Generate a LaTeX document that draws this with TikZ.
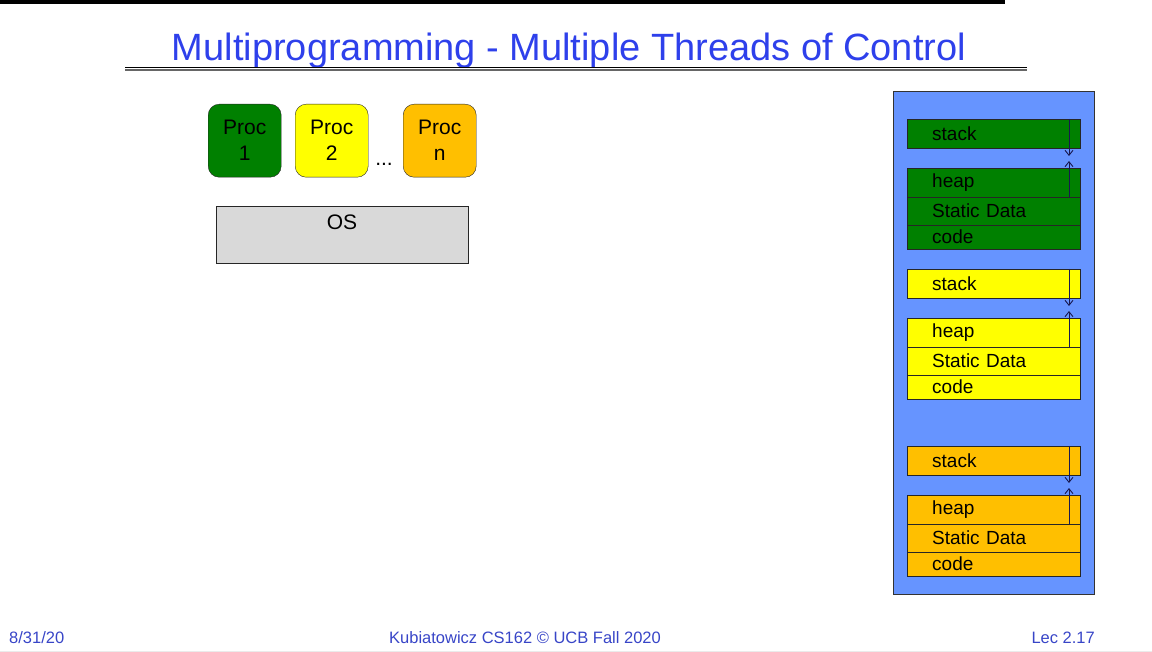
\documentclass[tikz,border=0pt]{standalone}
\usepackage{fontspec}
\setmainfont{Liberation Sans}
\usepackage{tikz}
\usetikzlibrary{positioning, calc, arrows.meta}
\definecolor{procgreen}{rgb}{0, 0.5, 0}
\definecolor{procyellow}{rgb}{1, 1, 0}
\definecolor{procorange}{rgb}{1, 0.75, 0}
\definecolor{osgray}{rgb}{0.85, 0.85, 0.85}
\definecolor{memblue}{rgb}{0.4, 0.58, 1}
\definecolor{titleblue}{rgb}{0.18, 0.25, 0.92}
\definecolor{footblue}{rgb}{0.22, 0.27, 0.78}

\begin{document}
\begin{tikzpicture}[x=1pt, y=-1pt]
		\tikzstyle{proc}=[draw=black!85, rounded corners=11pt, minimum width=73pt, minimum height=73pt, anchor=north west, align=center, inner sep=0pt, font=\fontsize{21}{26}\selectfont]
		\tikzstyle{seg}=[draw=black!85, minimum width=173pt, text width=123pt, inner xsep=25pt, inner ysep=0pt, anchor=north west, font=\fontsize{19}{22}\selectfont]
		\tikzstyle{growarrow}=[draw={rgb,255:red,25;green,25;blue,80}, line width=0.9pt, -{Straight Barb[length=5pt, width=8pt]}]
		\tikzstyle{foot}=[text=footblue, inner sep=0pt, anchor=base, font=\fontsize{16.5}{18}\selectfont]
		%%
		\useasboundingbox (0,0) rectangle (1152,652);
		\fill[black] (0,0) rectangle (1005,4);
		
		\node (title) at (569,61) [anchor=base, inner sep=0pt, text=titleblue, font=\fontsize{38}{40}\selectfont] {Multiprogramming - Multiple Threads of Control};
		\draw[line width=1.2pt, black] (125,67.5) -- (1027,67.5);
		\draw[line width=1.6pt, black!60] (125,70) -- (1027,70);
		
		\node (p1) at (208,104) [proc, fill=procgreen] {Proc\\1};
		\node (p2) at (295,104) [proc, fill=procyellow] {Proc\\2};
		\node (pn) at (403,104) [proc, fill=procorange] {Proc\\n};
		\node (dots) at (384,166) [anchor=base, inner sep=0pt, font=\fontsize{21}{22}\selectfont] {...};
		
		\node (os) at (216,206) [draw=black!85, fill=osgray, anchor=north west, minimum width=252pt, minimum height=57pt, inner sep=0pt] {};
		\node (osl) at (342,230) [anchor=base, inner sep=0pt, font=\fontsize{21}{22}\selectfont] {OS};
		
		\draw[fill=memblue, draw=black!80] (893,91) rectangle (1094,594);
		
		%% green
		\node (gs) at (907,119) [seg, fill=procgreen, minimum height=29pt] {stack};
		\node (gh) at (907,168) [seg, fill=procgreen, minimum height=29pt] {heap};
		\node (gd) at (907,197) [seg, fill=procgreen, minimum height=28pt] {Static Data};
		\node (gc) at (907,225) [seg, fill=procgreen, minimum height=24pt] {code};
		\coordinate (ga) at (1069,156);
		\coordinate (gb) at (1069,161);
		\draw[growarrow] (ga |- gs.north) -- (ga);
		\draw[growarrow] (gb |- gh.south) -- (gb);
		
		%% yellow
		\node (ys) at (907,269) [seg, fill=procyellow, minimum height=29pt] {stack};
		\node (yh) at (907,318) [seg, fill=procyellow, minimum height=29pt] {heap};
		\node (yd) at (907,347) [seg, fill=procyellow, minimum height=28pt] {Static Data};
		\node (yc) at (907,375) [seg, fill=procyellow, minimum height=24pt] {code};
		\coordinate (ya) at (1069,306);
		\coordinate (yb) at (1069,311);
		\draw[growarrow] (ya |- ys.north) -- (ya);
		\draw[growarrow] (yb |- yh.south) -- (yb);
		
		%% orange
		\node (os1) at (907,446) [seg, fill=procorange, minimum height=29pt] {stack};
		\node (oh) at (907,495) [seg, fill=procorange, minimum height=29pt] {heap};
		\node (od) at (907,524) [seg, fill=procorange, minimum height=28pt] {Static Data};
		\node (oc) at (907,552) [seg, fill=procorange, minimum height=24pt] {code};
		\coordinate (oa) at (1069,483);
		\coordinate (ob) at (1069,488);
		\draw[growarrow] (oa |- os1.north) -- (oa);
		\draw[growarrow] (ob |- oh.south) -- (ob);
		
		\node (fdate) at (9,643) [foot, anchor=base west] {8/31/20};
		\node (fmid) at (525,643) [foot] {Kubiatowicz CS162 © UCB Fall 2020};
		\node (flec) at (1095,643) [foot, anchor=base east] {Lec 2.17};
		\draw[black!8, line width=1pt] (0,651) -- (1152,651);
\end{tikzpicture}
\end{document}
